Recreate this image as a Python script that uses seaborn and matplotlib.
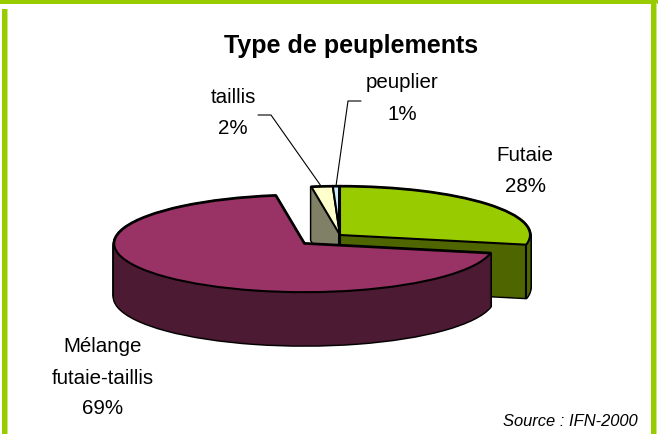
import numpy as np
import matplotlib
matplotlib.use('Agg')
import matplotlib.pyplot as plt
import seaborn as sns
from matplotlib.patches import Rectangle

sns.set_theme(style='white')
plt.rcParams['font.family'] = ['Liberation Sans', 'DejaVu Sans']

categories = ['Futaie', 'Mélange\nfutaie-taillis', 'taillis', 'peuplier']
shares = [28.2, 69.4, 1.8, 0.6]
top_colors = ['#99CC00', '#993366', '#FFFFCC', '#CCECFF']
wall_colors = ['#4F6600', '#4D1A33', '#808066', '#667680']
explode = [0, 0.26, 0, 0]

W, H = 658, 434
CX, CY = 340, 235
RX, RY = 190, 48.5
DEPTH = 53
LW = 1.5

fig = plt.figure(figsize=(W / 100, H / 100), dpi=100, facecolor='white')
ax = fig.add_axes([0, 0, 1, 1])


def draw_layer(idx, dy, face, edge, lw, z):
    # one slice of the pie, pushed down by dy pixels
    wedges, _ = ax.pie(shares, explode=explode, startangle=90, counterclock=False,
                       center=(0, -dy / RY), radius=1)
    for i, w in enumerate(wedges):
        if i == idx:
            w.set(facecolor=face, edgecolor=edge, linewidth=lw, zorder=z, joinstyle='round')
        else:
            w.remove()
    return wedges[idx]


def draw_wall(idx, z):
    # black silhouette first, fill on top of it
    for dy in range(0, DEPTH + 1):
        draw_layer(idx, dy, 'black', 'black', LW * 1.6, z)
    for dy in range(0, DEPTH + 1):
        draw_layer(idx, dy, wall_colors[idx], wall_colors[idx], 0.3, z + 0.1)


# back slices first, the front one last
for i in [3, 2]:
    draw_wall(i, 2)
for i in [2, 3]:
    draw_layer(i, 0, top_colors[i], 'black', LW, 3)

draw_wall(0, 4)
w = draw_layer(0, 0, top_colors[0], 'black', LW, 5)
end = np.deg2rad(w.theta1)
xe, ye = w.center[0] + np.cos(end), w.center[1] + np.sin(end)
ax.plot([xe, xe], [ye, ye - DEPTH / RY], color='black', lw=LW, zorder=4.5)
ax.plot([0, 0], [0, -DEPTH / RY], color='black', lw=LW, zorder=4.5)

draw_wall(1, 6)
draw_layer(1, 0, top_colors[1], 'black', LW, 7)

# pixel window -> pie units
ax.set_aspect('auto')
ax.set_xlim((0 - CX) / RX, (W - CX) / RX)
ax.set_ylim((CY - H) / RY, CY / RY)
ax.axis('off')


def px(x, y):
    return (x - CX) / RX, (CY - y) / RY


# leader lines
ax.plot(*zip(px(258, 115), px(271, 115), px(321, 186)), color='black', lw=0.8, zorder=3)
ax.plot(*zip(px(361, 101), px(348, 101), px(336, 186)), color='black', lw=0.8, zorder=3)

fs = 14.8
ls = 1.8
ax.text(*px(351, 46), 'Type de peuplements', ha='center', va='center', fontsize=18,
        fontweight='bold', color='black')
ax.text(*px(525, 171), f'{categories[0]}\n{shares[0]:.0f}%', ha='center', va='center', fontsize=fs,
        color='black', linespacing=ls)
ax.text(*px(103, 378), f'{categories[1]}\n{shares[1]:.0f}%', ha='center', va='center', fontsize=fs,
        color='black', linespacing=ls)
ax.text(*px(233, 113), f'{categories[2]}\n{shares[2]:.0f}%', ha='center', va='center', fontsize=fs,
        color='black', linespacing=ls)
ax.text(*px(402, 98.5), f'{categories[3]}\n{shares[3]:.0f}%', ha='center', va='center', fontsize=fs,
        color='black', linespacing=ls)
ax.text(*px(638, 421), 'Source : IFN-2000', ha='right', va='center', fontsize=11.9,
        style='italic', color='black')

# green frame round the picture
fr = dict(facecolor='#99CC00', edgecolor='none', transform=fig.transFigure, zorder=10)
pale = dict(facecolor='#CCE680', edgecolor='none', transform=fig.transFigure, zorder=10)
fig.add_artist(Rectangle((0, 1 - 3.5 / H), 1, 3.5 / H, **fr))
fig.add_artist(Rectangle((2 / W, 0), 5 / W, 1 - 9 / H, **fr))
fig.add_artist(Rectangle((7 / W, 0), 1 / W, 1 - 9 / H, **pale))
fig.add_artist(Rectangle((651 / W, 0), 4.5 / W, 1 - 3 / H, **fr))
fig.add_artist(Rectangle((655.5 / W, 0), 1 / W, 1 - 3 / H, **pale))

fig.savefig('out.png', dpi=100, facecolor='white')
